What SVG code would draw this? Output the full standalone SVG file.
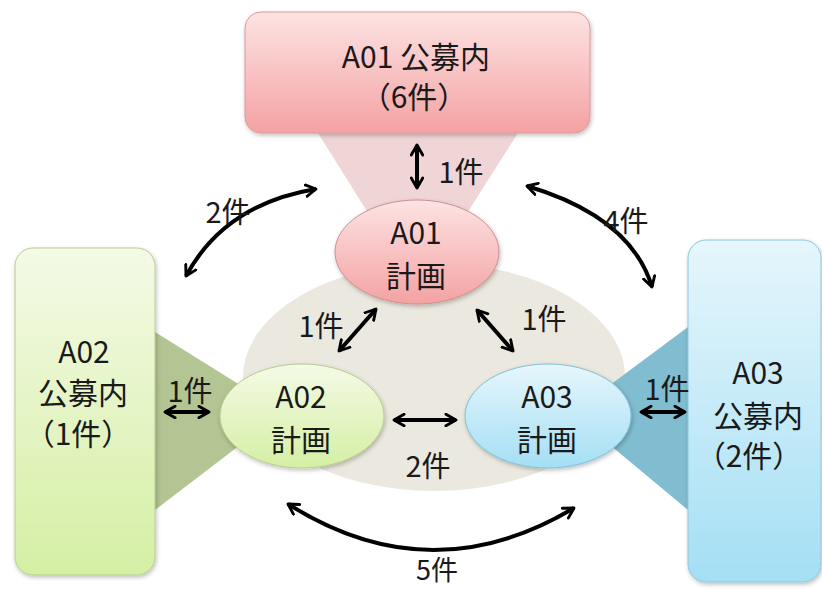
<svg xmlns="http://www.w3.org/2000/svg" width="822" height="589" viewBox="0 0 822 589">
<style>
text{font-family:"Noto Sans CJK JP","Noto Sans",sans-serif;fill:#1a1a1a;text-anchor:middle}
.big{font-size:30px}
.lbl{font-size:29px}
.arr{fill:none;stroke:#000;stroke-width:4;marker-start:url(#ah);marker-end:url(#ah)}
</style>
<defs>
<linearGradient id="gp" x1="0" y1="0" x2="0" y2="1"><stop offset="0" stop-color="#fde3e3"/><stop offset="1" stop-color="#f4a2a3"/></linearGradient>
<linearGradient id="gg" x1="0" y1="0" x2="0" y2="1"><stop offset="0" stop-color="#f4fae6"/><stop offset="1" stop-color="#d5efa4"/></linearGradient>
<linearGradient id="gb" x1="0" y1="0" x2="0" y2="1"><stop offset="0" stop-color="#e6f6fc"/><stop offset="1" stop-color="#a4dff4"/></linearGradient>
<filter id="sh" x="-10%" y="-10%" width="130%" height="130%"><feDropShadow dx="1" dy="2" stdDeviation="2" flood-color="#000" flood-opacity="0.25"/></filter>
<marker id="ah" viewBox="0 0 10 10" refX="8" refY="5" markerWidth="3.6" markerHeight="3.6" orient="auto-start-reverse" markerUnits="strokeWidth"><path d="M1,1 L8,5 L1,9" fill="none" stroke="#000" stroke-width="2" stroke-linecap="round" stroke-linejoin="round"/></marker>
</defs>
<rect width="822" height="589" fill="#fff"/>
<g id="backdrop">
<ellipse cx="434" cy="377" rx="191" ry="114" fill="#ebe8df"/>
<polygon points="318,133 518,133 450,240 385,240" fill="#efd5d5"/>
<polygon points="155,332 155,510 240,445 240,385" fill="#b3c592"/>
<polygon points="688,327 688,510 610,445 610,385" fill="#80bdd0"/>
</g>
<g id="A01box">
<rect x="245" y="12" width="345" height="121" rx="16" fill="url(#gp)" stroke="#d99a9a" stroke-width="1" filter="url(#sh)"/>
<text class="big" x="416" y="68">A01 公募内</text>
<text class="big" x="414" y="108">（6件）</text>
</g>
<g id="A02box">
<rect x="15" y="248" width="140" height="327" rx="18" fill="url(#gg)" stroke="#b8cc90" stroke-width="1" filter="url(#sh)"/>
<text class="big" x="84" y="363">A02</text>
<text class="big" x="83" y="404">公募内</text>
<text class="big" x="78" y="445">（1件）</text>
</g>
<g id="A03box">
<rect x="688" y="240" width="133" height="342" rx="18" fill="url(#gb)" stroke="#8cc7dc" stroke-width="1" filter="url(#sh)"/>
<text class="big" x="758" y="384">A03</text>
<text class="big" x="758" y="427">公募内</text>
<text class="big" x="749" y="467">（2件）</text>
</g>
<g id="A01plan">
<ellipse cx="417" cy="252" rx="82" ry="52" fill="url(#gp)" stroke="#d08e8e" stroke-width="1" filter="url(#sh)"/>
<text class="big" x="416" y="244">A01</text>
<text class="big" x="416" y="287">計画</text>
</g>
<g id="A02plan">
<ellipse cx="302" cy="416" rx="82" ry="52" fill="url(#gg)" stroke="#b8cc90" stroke-width="1" filter="url(#sh)"/>
<text class="big" x="301" y="408">A02</text>
<text class="big" x="301" y="451">計画</text>
</g>
<g id="A03plan">
<ellipse cx="548" cy="416" rx="83" ry="52" fill="url(#gb)" stroke="#7fbfd6" stroke-width="1" filter="url(#sh)"/>
<text class="big" x="547" y="408">A03</text>
<text class="big" x="547" y="451">計画</text>
</g>
<g id="connectors">
<path class="arr" d="M417,145 L417,188"/>
<path class="arr" d="M186,276 Q225,204 316,189"/>
<path class="arr" d="M527,186 Q631,217 652,287"/>
<path class="arr" d="M376,309 L339,351"/>
<path class="arr" d="M477,310 L513,351"/>
<path class="arr" d="M394,420 L456,420"/>
<path class="arr" d="M165,412 L209,412"/>
<path class="arr" d="M641,412 L685,412"/>
<path class="arr" d="M288,504 Q430,594 574,508"/>
</g>
<g id="labels">
<text class="lbl" x="461" y="183">1件</text>
<text class="lbl" x="228" y="223">2件</text>
<text class="lbl" x="626" y="232">4件</text>
<text class="lbl" x="321" y="337">1件</text>
<text class="lbl" x="544" y="330">1件</text>
<text class="lbl" x="428" y="477">2件</text>
<text class="lbl" x="190" y="402">1件</text>
<text class="lbl" x="667" y="400">1件</text>
<text class="lbl" x="437" y="580" style="font-size:27px">5件</text>
</g>
</svg>
